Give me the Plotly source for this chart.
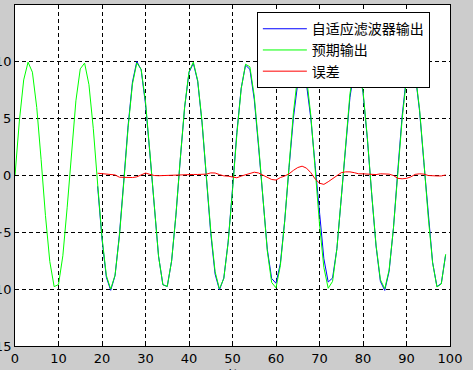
import plotly.graph_objects as go

# sample index (time)
t_all = list(range(0, 100))
# desired output (预期输出)
desired = [0.00, 4.79, 8.41, 9.97, 9.09, 5.98, 1.41, -3.51, -7.57, -9.78,
           -9.59, -7.06, -2.79, 2.15, 6.57, 9.38, 9.89, 7.99, 4.12, -0.75,
           -5.44, -8.80, -10.00, -8.76, -5.37, -0.66, 4.20, 8.04, 9.91, 9.35,
           6.50, 2.07, -2.88, -7.12, -9.61, -9.76, -7.51, -3.43, 1.50, 6.06,
           9.13, 9.97, 8.37, 4.72, -0.09, -4.87, -8.46, -9.98, -9.06, -5.91,
           -1.32, 3.59, 7.63, 9.79, 9.56, 6.99, 2.71, -2.24, -6.64, -9.41,
           -9.88, -7.93, -4.04, 0.84, 5.51, 8.84, 10.00, 8.71, 5.29, 0.58,
           -4.28, -8.09, -9.92, -9.32, -6.44, -1.98, 2.96, 7.18, 9.64, 9.74,
           7.45, 3.34, -1.59, -6.13, -9.17, -9.96, -8.32, -4.64, 0.18, 4.95,
           8.51, 9.99, 9.02, 5.84, 1.24, -3.67, -7.68, -9.81, -9.54, -6.93]

t_filt = list(range(19, 100))
# adaptive filter output (自适应滤波器输出)
filt_out = [-0.95, -5.59, -8.95, -10.10, -8.81, -5.22, -0.48, 4.38, 8.22, 10.03,
            9.30, 6.28, 1.97, -2.88, -7.10, -9.61, -9.76, -7.53, -3.49, 1.45,
            6.00, 9.06, 9.88, 8.28, 4.63, -0.21, -5.10, -8.68, -10.06, -9.03,
            -5.85, -1.17, 3.79, 7.68, 9.71, 9.34, 6.70, 2.49, -2.29, -6.49,
            -9.06, -9.48, -7.75, -3.99, 0.69, 5.06, 8.14, 9.18, 8.06, 5.04,
            0.88, -3.60, -7.31, -9.37, -9.02, -6.44, -2.23, 2.64, 6.86, 9.39,
            9.59, 7.30, 3.22, -1.65, -6.21, -9.32, -10.11, -8.44, -4.64, 0.43,
            5.24, 8.76, 10.11, 8.92, 5.69, 1.12, -3.67, -7.64, -9.77, -9.50,
            -6.98]
# error (误差)
error = [0.20, 0.15, 0.15, 0.10, 0.05, -0.15, -0.18, -0.18, -0.18, -0.12,
         0.05, 0.22, 0.10, 0.00, -0.02, 0.00, 0.00, 0.02, 0.06, 0.05,
         0.06, 0.07, 0.09, 0.09, 0.09, 0.12, 0.23, 0.22, 0.08, -0.03,
         -0.06, -0.15, -0.20, -0.05, 0.08, 0.22, 0.29, 0.22, 0.05, -0.15,
         -0.35, -0.40, -0.18, -0.05, 0.15, 0.45, 0.70, 0.82, 0.65, 0.25,
         -0.30, -0.68, -0.78, -0.55, -0.30, 0.00, 0.25, 0.32, 0.32, 0.25,
         0.15, 0.15, 0.12, 0.06, 0.08, 0.15, 0.15, 0.12, 0.00, -0.25,
         -0.29, -0.25, -0.12, 0.10, 0.15, 0.12, 0.00, -0.04, -0.04, -0.04,
         0.05]

x_ticks = [0, 10, 20, 30, 40, 50, 60, 70, 80, 90, 100]
y_ticks = [-15, -10, -5, 0, 5, 10, 15]
names = ["自适应滤波器输出", "预期输出", "误差"]
x_label = "时间"

fig = go.Figure()
fig.add_trace(go.Scatter(x=t_filt, y=filt_out, mode="lines", name=names[0],
                         line=dict(color="#0000ff", width=1)))
fig.add_trace(go.Scatter(x=t_all, y=desired, mode="lines", name=names[1],
                         line=dict(color="#00ff00", width=1)))
fig.add_trace(go.Scatter(x=t_filt, y=error, mode="lines", name=names[2],
                         line=dict(color="#ff0000", width=1)))

axis_common = dict(showline=True, linecolor="black", linewidth=1, mirror=True,
                   showgrid=True, gridcolor="black", gridwidth=1, griddash="4px,3px",
                   zeroline=False, ticks="inside", ticklen=4, tickcolor="black",
                   tickfont=dict(family="DejaVu Sans", size=13, color="black"),
                   automargin=False)

fig.update_layout(
    width=473, height=370,
    margin=dict(l=15, r=23, t=5, b=24),
    paper_bgcolor="#cccccc",
    plot_bgcolor="white",
    xaxis=dict(range=[0, 100], tickvals=x_ticks, **axis_common),
    yaxis=dict(range=[-15, 15], tickvals=y_ticks, **axis_common),
    legend=dict(x=0.556, y=0.979, xanchor="left", yanchor="top",
                bgcolor="white", bordercolor="black", borderwidth=1,
                font=dict(family="Noto Sans CJK SC", size=14, color="black"),
                itemwidth=44, tracegroupgap=0),
    showlegend=True,
    annotations=[dict(text=x_label, xref="paper", yref="paper", x=0.5, y=-0.05,
                      xanchor="center", yanchor="top", showarrow=False,
                      font=dict(family="Noto Sans CJK SC", size=14, color="black"))],
)

fig.write_html("out.html")
